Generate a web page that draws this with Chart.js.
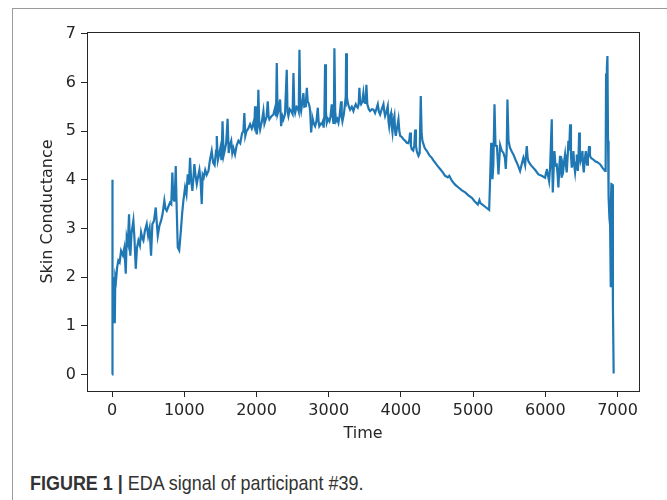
<!DOCTYPE html>
<html>
<head>
<meta charset="utf-8">
<script src="https://cdn.jsdelivr.net/npm/chart.js@4.4.1/dist/chart.umd.min.js"></script>
<style>
  html, body { margin: 0; padding: 0; background: #fff; }
  body { width: 667px; height: 500px; position: relative; overflow: hidden; }
  #frame { position: absolute; left: 12px; top: 8px; width: 720px; height: 540px;
           border: 1px solid #9a9a9a; box-sizing: border-box; }
  #wrap { position: absolute; left: 0; top: 0; width: 667px; height: 460px; }
  #caption { position: absolute; left: 30px; top: 471px; white-space: nowrap;
             font-family: "Liberation Sans", Arial, sans-serif;
             font-size: 21px; color: #333;
             transform: scaleX(0.855); transform-origin: left top; }
</style>
</head>
<body>
<div id="frame"></div>
<div id="wrap"><canvas id="eda-chart" width="667" height="460"></canvas></div>
<div id="caption"><b>FIGURE 1 |</b> EDA signal of participant #39.</div>
<script>
// DATA ------------------------------------------------------

const timeVals = [
  0, 4, 8, 14, 22, 30, 38, 45, 55, 70, 87, 105, 125, 150, 170, 190, 203, 220, 235, 253,
  270, 295, 310, 328, 345, 365, 385, 402, 420, 434, 455, 480, 500, 520, 540, 558, 580, 605, 620, 633,
  655, 679, 700, 724, 740, 757, 780, 803, 820, 835, 848, 859, 870, 882, 895, 910, 930, 955, 970, 988,
  1011, 1030, 1048, 1065, 1080, 1095, 1112, 1125, 1140, 1155, 1173, 1190, 1210, 1225, 1242, 1255, 1270, 1290, 1310, 1335,
  1355, 1380, 1400, 1420, 1440, 1450, 1465, 1480, 1500, 1515, 1530, 1545, 1560, 1580, 1600, 1615, 1630, 1650, 1665, 1680,
  1703, 1725, 1750, 1775, 1800, 1819, 1832, 1845, 1860, 1885, 1911, 1935, 1957, 1970, 1980, 1992, 2004, 2015, 2026, 2038,
  2050, 2075, 2096, 2110, 2120, 2140, 2156, 2168, 2179, 2205, 2234, 2258, 2270, 2281, 2292, 2304, 2327, 2341, 2360, 2373,
  2395, 2419, 2430, 2442, 2460, 2480, 2500, 2512, 2524, 2535, 2555, 2570, 2585, 2595, 2607, 2618, 2635, 2650, 2662, 2673,
  2685, 2697, 2710, 2720, 2735, 2743, 2757, 2770, 2780, 2795, 2812, 2830, 2849, 2860, 2870, 2890, 2905, 2920, 2930, 2940,
  2950, 2962, 2973, 2990, 3010, 3025, 3042, 3055, 3065, 3072, 3079, 3090, 3102, 3120, 3135, 3150, 3171, 3180, 3190, 3210,
  3227, 3235, 3241, 3252, 3264, 3280, 3296, 3320, 3342, 3360, 3375, 3390, 3402, 3415, 3425, 3436, 3448, 3465, 3480, 3492,
  3503, 3515, 3522, 3535, 3555, 3573, 3600, 3620, 3642, 3660, 3680, 3695, 3712, 3735, 3758, 3770, 3781, 3800, 3818, 3828,
  3837, 3850, 3864, 3872, 3883, 3895, 3910, 3920, 3929, 3945, 3966, 3978, 3990, 4010, 4035, 4060, 4080, 4100, 4115, 4127,
  4138, 4150, 4170, 4185, 4197, 4208, 4220, 4235, 4243, 4260, 4275, 4287, 4298, 4330, 4360, 4395, 4428, 4450, 4474, 4510,
  4543, 4580, 4612, 4650, 4670, 4705, 4750, 4797, 4845, 4890, 4935, 4982, 5020, 5065, 5087, 5100, 5120, 5170, 5222, 5235,
  5250, 5260, 5268, 5280, 5296, 5310, 5330, 5351, 5374, 5395, 5420, 5440, 5452, 5465, 5475, 5490, 5510, 5535, 5557, 5590,
  5620, 5650, 5670, 5696, 5720, 5743, 5755, 5766, 5790, 5812, 5860, 5904, 5950, 5997, 6010, 6020, 6035, 6052, 6066, 6089,
  6096, 6103, 6115, 6126, 6140, 6158, 6170, 6181, 6195, 6204, 6215, 6227, 6240, 6250, 6262, 6273, 6285, 6296, 6310, 6319,
  6330, 6343, 6355, 6366, 6378, 6389, 6400, 6412, 6425, 6435, 6442, 6450, 6460, 6468, 6478, 6487, 6500, 6514, 6522, 6532,
  6546, 6560, 6570, 6578, 6590, 6606, 6618, 6630, 6660, 6690, 6720, 6758, 6790, 6827, 6835, 6841, 6852, 6860, 6868, 6876,
  6888, 6897, 6903, 6909, 6915, 6926, 6936, 6946
];

const skinVals = [
  0.0, 4.0, 1.6, 2.0, 1.05, 1.9, 1.05, 2.0, 1.93, 2.2, 2.34, 2.3, 2.54, 2.45, 2.6, 2.07, 2.82, 2.7, 3.29, 2.44,
  2.9, 3.16, 2.8, 2.17, 2.6, 2.75, 2.65, 2.92, 2.8, 2.75, 2.95, 3.09, 2.85, 3.0, 2.44, 3.09, 3.15, 3.43, 3.1, 2.85,
  3.05, 3.16, 3.3, 3.57, 3.4, 3.36, 3.45, 3.53, 3.5, 4.15, 3.6, 3.57, 3.7, 4.28, 3.4, 2.61, 2.55, 2.99, 3.3, 3.57,
  3.84, 3.7, 4.11, 3.9, 4.45, 4.0, 3.77, 4.0, 4.32, 4.1, 3.91, 4.05, 4.2, 4.0, 3.5, 4.1, 4.05, 4.2, 4.1, 4.18,
  4.4, 4.59, 4.35, 4.3, 4.6, 4.9, 4.4, 4.5, 4.65, 4.4, 5.2, 4.5, 4.6, 4.75, 5.25, 4.55, 4.7, 4.8, 4.55, 4.65,
  4.52, 4.7, 4.8, 4.75, 4.95, 5.0, 5.37, 4.9, 4.99, 5.05, 5.14, 5.05, 5.17, 5.1, 5.51, 5.1, 4.93, 5.1, 5.85, 5.15,
  5.03, 5.2, 5.41, 5.15, 5.2, 5.3, 5.61, 5.3, 5.24, 5.3, 5.34, 5.48, 5.3, 6.4, 5.35, 5.41, 5.65, 5.1, 5.3, 5.24,
  5.35, 6.26, 5.4, 5.31, 5.45, 5.41, 5.35, 6.19, 5.45, 5.37, 5.5, 5.48, 5.4, 6.67, 5.5, 5.41, 5.6, 5.78, 5.5, 5.51,
  5.6, 5.89, 5.6, 5.58, 5.5, 5.41, 4.97, 5.2, 5.24, 5.15, 5.1, 5.2, 5.48, 5.2, 5.1, 5.15, 5.14, 5.2, 5.07, 5.3,
  6.37, 5.4, 5.17, 5.25, 5.2, 5.3, 5.55, 5.3, 5.17, 5.3, 6.7, 5.4, 5.2, 5.25, 5.17, 5.3, 5.61, 5.3, 5.2, 5.35,
  5.58, 5.5, 6.6, 5.7, 5.58, 5.5, 5.44, 5.5, 5.41, 5.5, 5.55, 5.5, 5.48, 5.55, 5.89, 5.6, 5.55, 5.6, 5.78, 5.6,
  5.58, 5.7, 5.95, 5.55, 5.45, 5.41, 5.45, 5.44, 5.37, 5.45, 5.55, 5.4, 5.34, 5.45, 5.55, 5.4, 5.31, 5.4, 5.51, 5.2,
  5.1, 5.3, 5.37, 5.1, 4.97, 5.2, 5.31, 5.0, 4.9, 5.05, 5.24, 5.0, 4.9, 4.88, 4.83, 4.8, 4.76, 4.75, 4.8, 4.97,
  4.7, 4.63, 4.6, 4.7, 5.03, 4.7, 4.59, 4.52, 4.49, 4.55, 5.72, 4.95, 4.8, 4.65, 4.59, 4.5, 4.45, 4.4, 4.35, 4.28,
  4.22, 4.15, 4.08, 4.05, 4.08, 3.98, 3.9, 3.84, 3.78, 3.74, 3.68, 3.63, 3.56, 3.49, 3.58, 3.52, 3.5, 3.44, 3.38, 4.0,
  4.76, 4.2, 4.01, 4.3, 5.55, 4.7, 4.69, 4.11, 4.71, 4.6, 4.55, 4.45, 4.22, 4.6, 5.65, 4.8, 4.66, 4.58, 4.52, 4.4,
  4.3, 4.18, 4.3, 4.45, 4.3, 4.69, 4.45, 4.38, 4.32, 4.28, 4.2, 4.11, 4.08, 4.04, 4.15, 4.22, 4.1, 3.97, 4.25, 5.24,
  4.3, 3.74, 4.2, 4.59, 4.3, 4.31, 4.1, 3.84, 4.3, 4.49, 4.2, 4.04, 4.3, 4.22, 4.4, 4.52, 4.3, 4.15, 4.5, 4.8,
  4.6, 5.14, 4.5, 4.25, 4.4, 4.59, 4.3, 4.15, 4.35, 4.52, 4.3, 4.18, 4.5, 4.97, 4.5, 4.38, 4.45, 4.59, 4.3, 4.15,
  4.4, 4.59, 4.4, 4.31, 4.45, 4.69, 4.5, 4.45, 4.42, 4.38, 4.36, 4.32, 4.25, 4.18, 4.3, 6.16, 6.3, 6.54, 4.8, 3.63,
  3.2, 3.06, 1.79, 3.5, 3.91, 3.9, 1.4, 0.02
];

const xTicks = [0, 1000, 2000, 3000, 4000, 5000, 6000, 7000];
const yTicks = [0, 1, 2, 3, 4, 5, 6, 7];

// CHART ------------------------------------------------------

const edaCanvas = document.getElementById("eda-chart");
const axisColor = '#262626';
const axisFont = { family: 'DejaVu Sans', size: 16 };

const edaPoints = timeVals.map((t, i) => ({ x: t, y: skinVals[i] }));

// box round the plot, like matplotlib's spines
const frameBox = {
    id: 'frameBox',
    afterDraw(chart) {
        const { ctx, chartArea: a } = chart;
        ctx.save();
        ctx.strokeStyle = axisColor;
        ctx.lineWidth = 1;
        ctx.strokeRect(Math.round(a.left) + 0.5, Math.round(a.top) + 0.5,
                       Math.round(a.right - a.left), Math.round(a.bottom - a.top));
        ctx.restore();
    }
};

let edaChart = new Chart(edaCanvas, {
    type: 'line',
    data: {
        datasets: [{
            data: edaPoints,
            borderColor: '#1f77b4',
            borderWidth: 2.2,
            pointRadius: 0,
            tension: 0,
            fill: false
        }]
    },
    options: {
        responsive: false,
        animation: false,
        layout: { padding: { top: 32, right: 28, left: 0, bottom: 0 } },
        plugins: {
            legend: { display: false },
            tooltip: { enabled: false }
        },
        scales: {
            x: {
                type: 'linear',
                min: -347,
                max: 7297,
                afterBuildTicks: s => { s.ticks = xTicks.map(v => ({ value: v })); },
                afterFit: s => { s.height = 69; },
                grid: { drawOnChartArea: false, drawTicks: true, tickLength: 6, color: axisColor },
                border: { display: false },
                ticks: { color: axisColor, font: axisFont, padding: 4, maxRotation: 0, autoSkip: false,
                         callback: v => String(v) },
                title: { display: true, text: 'Time', color: axisColor, font: axisFont, padding: { top: 0, bottom: 17 } }
            },
            y: {
                min: -0.34,
                max: 7.035,
                afterBuildTicks: s => { s.ticks = yTicks.map(v => ({ value: v })); },
                afterFit: s => { s.width = 87; },
                grid: { drawOnChartArea: false, drawTicks: true, tickLength: 6, color: axisColor },
                border: { display: false },
                ticks: { color: axisColor, font: axisFont, padding: 5, callback: v => String(v) },
                title: { display: true, text: 'Skin Conductance', color: axisColor, font: axisFont, padding: { top: 38, bottom: 0 } }
            }
        }
    },
    plugins: [frameBox]
});
</script>
</body>
</html>
